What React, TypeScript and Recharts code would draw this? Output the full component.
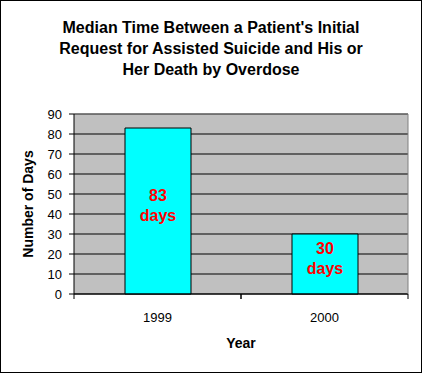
import React from 'react';
import { BarChart, Bar, XAxis, YAxis, CartesianGrid, ReferenceLine, LabelList } from 'recharts';

const years = ['1999', '2000'];
const medianDays = [83, 30];
const dayTicks = [0, 10, 20, 30, 40, 50, 60, 70, 80, 90];
const titleLines = [
    "Median Time Between a Patient's Initial",
    'Request for Assisted Suicide and His or',
    'Her Death by Overdose',
];

const data = years.map((year, i) => ({ year, days: medianDays[i] }));

const FONT = '"Liberation Sans", Arial, sans-serif';
const CHART_W = 424;
const CHART_H = 374;
const Y_AXIS_W = 74;
const RIGHT_W = 16;
const TICK_SIZE = 5;
const TICK_MARGIN = 12;

// category axis: labels centred, tick marks on the band edges like Excel
function YearTick(props: any) {
    const { x, y, payload } = props;
    const band = (CHART_W - Y_AXIS_W - RIGHT_W) / years.length;
    const half = payload?.offset > 0 ? payload.offset : band / 2;
    const axisY = y - TICK_SIZE - TICK_MARGIN;
    return (
        <g>
            <line x1={x - half} y1={axisY} x2={x - half} y2={axisY + TICK_SIZE} stroke="#000" strokeWidth={1} />
            <line x1={x + half} y1={axisY} x2={x + half} y2={axisY + TICK_SIZE} stroke="#000" strokeWidth={1} />
            <text x={x} y={axisY + 28} textAnchor="middle" fontSize={13} fontFamily={FONT} fill="#000">
                {payload.value}
            </text>
        </g>
    );
}

function DaysLabel(props: any) {
    const { x, y, width, height, value } = props;
    const cx = x + width / 2;
    const cy = y + height / 2;
    return (
        <text textAnchor="middle" fontSize={16} fontWeight="bold" fontFamily={FONT} fill="#FF0000">
            <tspan x={cx} y={cy - 10}>{value}</tspan>
            <tspan x={cx} y={cy + 10}>days</tspan>
        </text>
    );
}

function YTitle(props: any) {
    const { viewBox } = props;
    const cx = viewBox.x + 33;
    const cy = viewBox.y + viewBox.height / 2;
    return (
        <text
            x={cx}
            y={cy}
            transform={`rotate(-90, ${cx}, ${cy})`}
            textAnchor="middle"
            fontSize={14}
            fontWeight="bold"
            fontFamily={FONT}
            fill="#000"
        >
            Number of Days
        </text>
    );
}

export default function App() {
    return (
        <div style={{ position: 'relative', width: CHART_W, height: CHART_H, background: '#fff' }}>
            <style>{`body { margin: 0; }`}</style>
            {/* outer frame */}
            <div
                style={{
                    position: 'absolute',
                    left: 0,
                    top: 0,
                    width: 422,
                    height: 373,
                    border: '1px solid #000',
                    boxSizing: 'border-box',
                }}
            />
            {/* Title */}
            <div
                style={{
                    position: 'absolute',
                    left: 0,
                    top: 17,
                    width: 422,
                    textAlign: 'center',
                    fontFamily: FONT,
                    fontWeight: 'bold',
                    fontSize: 16,
                    lineHeight: '21px',
                    color: '#000',
                }}
            >
                {titleLines.map((line) => (
                    <div key={line}>{line}</div>
                ))}
            </div>

            <div style={{ position: 'absolute', left: 0, top: 0 }}>
                <BarChart width={CHART_W} height={CHART_H} data={data} margin={{ top: 114, right: 0, bottom: 0, left: 0 }}>
                    <CartesianGrid vertical={false} stroke="#000" fill="#C0C0C0" fillOpacity={1} />
                    <XAxis
                        dataKey="year"
                        height={80}
                        interval={0}
                        tickLine={false}
                        tickSize={TICK_SIZE}
                        tickMargin={TICK_MARGIN}
                        axisLine={{ stroke: '#000' }}
                        tick={<YearTick />}
                        label={{
                            value: 'Year',
                            position: 'insideBottom',
                            offset: 26,
                            fontSize: 14,
                            fontWeight: 'bold',
                            fontFamily: FONT,
                            fill: '#000',
                        }}
                    />
                    <YAxis
                        width={Y_AXIS_W}
                        domain={[0, 90]}
                        ticks={dayTicks}
                        interval={0}
                        tickSize={TICK_SIZE}
                        tickMargin={7}
                        axisLine={{ stroke: '#000' }}
                        tickLine={{ stroke: '#000' }}
                        tick={{ fill: '#000', fontSize: 13, fontFamily: FONT }}
                        label={<YTitle />}
                    />
                    {/* right edge of the plot area */}
                    <YAxis
                        yAxisId="frame"
                        orientation="right"
                        width={RIGHT_W}
                        domain={[0, 90]}
                        tick={false}
                        tickLine={false}
                        axisLine={{ stroke: '#808080' }}
                    />
                    <ReferenceLine y={90} stroke="#808080" />
                    <Bar dataKey="days" barSize={66} fill="#00FFFF" stroke="#000" strokeWidth={1} isAnimationActive={false}>
                        <LabelList dataKey="days" content={<DaysLabel />} />
                    </Bar>
                </BarChart>
            </div>
        </div>
    );
}
